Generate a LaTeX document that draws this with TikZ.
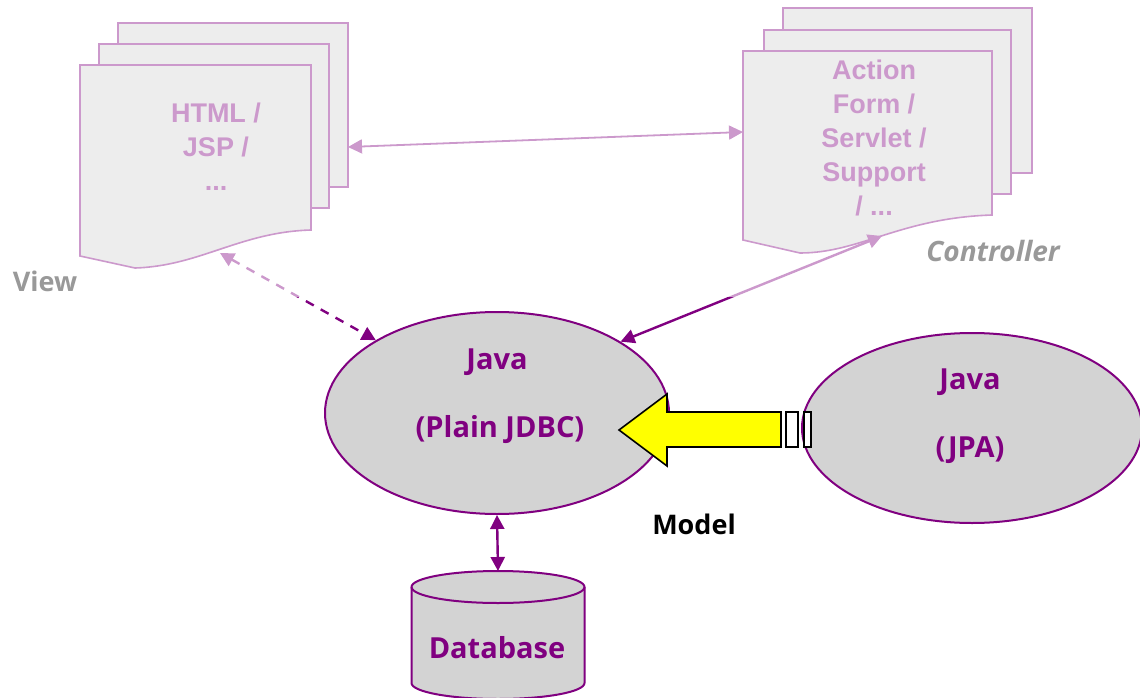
\documentclass[tikz,border=0pt]{standalone}
\usepackage{fontspec}
\usetikzlibrary{shapes.geometric,arrows.meta}
\newfontfamily\labelfont{Open Sans}
\newfontfamily\pagefont{Liberation Sans}
\definecolor{plum}{HTML}{800080}
\definecolor{cellgray}{HTML}{D3D3D3}
\definecolor{arrowyellow}{HTML}{FFFF00}
\tikzset{
  x=1pt, y=-1pt,
  bothtip/.style={{Triangle[length=14pt,width=14pt]}-{Triangle[length=14pt,width=14pt]}},
  link/.style={draw=plum, line width=2.4pt},
  sheet/.style={draw=plum, fill=cellgray, line width=1.6pt},
  blob/.style={ellipse, draw=plum, fill=cellgray, line width=2pt, inner sep=0pt},
  modeltext/.style={text=plum, font=\labelfont\bfseries\fontsize{29}{34}\selectfont},
  sheettext/.style={text=plum, align=center, font=\pagefont\bfseries\fontsize{27}{34}\selectfont},
  caption/.style={text=black, font=\labelfont\bfseries\fontsize{27}{32}\selectfont},
}
\begin{document}
\begin{tikzpicture}
\useasboundingbox (0,0) rectangle (1140,698);
\clip (0,0) rectangle (1140,698);

% ---- Model: JDBC core, JPA alternative, database ----
\node[blob, minimum width=344pt, minimum height=202pt] (jdbc) at (497,413) {};
\node[modeltext] (jdbcA) at (497,362) {Java};
\node[modeltext] (jdbcB) at (500,430) {(Plain JDBC)};

\node[blob, minimum width=340pt, minimum height=190pt] (jpa) at (972,428) {};
\node[modeltext] (jpaA) at (970,382) {Java};
\node[modeltext] (jpaB) at (970,450) {(JPA)};

% yellow replacement arrow with two slots
\draw[fill=arrowyellow, line width=1.6pt, line join=miter]
  (781,412) -- (667,412) -- (667,394) -- (619,430) -- (667,466) -- (667,447) -- (781,447) -- cycle;
\draw[fill=white, line width=1.6pt] (786,412) rectangle (798,447);
\draw[fill=white, line width=1.6pt] (804,412) rectangle (811,447);

\node[font=\labelfont\bfseries\fontsize{27}{32}\selectfont] (model) at (694,524) {Model};

% database cylinder: body, then front rim of the lid
\path[sheet, line width=2pt, fill=cellgray]
  (411.5,587) -- (411.5,683) arc[start angle=180, end angle=0, x radius=86.5, y radius=16]
  -- (584.5,587) arc[start angle=0, end angle=-180, x radius=86.5, y radius=16] -- cycle;
\draw[draw=plum, line width=2pt]
  (411.5,587) arc[start angle=180, end angle=0, x radius=86.5, y radius=16];
\coordinate (dbtop) at (498,571);
\node[modeltext] (db) at (497,648) {Database};

\draw[link, bothtip] (jdbc.south) -- (dbtop);

% ---- View pages ----
\draw[sheet] (118,23) rectangle (348,187);
\draw[sheet] (99,44) rectangle (329,208);
\draw[sheet] (80,65) -- (311,65) -- (311,230)
  .. controls (240,232) and (200,266) .. (135,268) -- (80,256) -- cycle;
\node[sheettext] (viewtext) at (216,147) {HTML /\\JSP /\\...};
\node[caption] (viewcap) at (45,281) {View};
\coordinate (viewR) at (348,147);
\coordinate (viewB) at (220,253);

% ---- Controller pages ----
\draw[sheet] (783,8) rectangle (1032,173);
\draw[sheet] (764,30) rectangle (1011,194);
\draw[sheet] (743,51) -- (992,51) -- (992,215)
  .. controls (900,218) and (860,253) .. (800,253) -- (743,240) -- cycle;
\node[sheettext] (ctrltext) at (874,137.5) {Action\\Form /\\Servlet /\\Support\\/ ...};
\node[caption, font=\labelfont\bfseries\itshape\fontsize{28}{32}\selectfont] (ctrlcap) at (993,251) {Controller};
\coordinate (ctrlL) at (743,132);
\coordinate (ctrlB) at (882,236);

% ---- connectors ----
\draw[link, line width=1.8pt, bothtip] (viewR) -- (ctrlL);
\draw[link, bothtip, dash pattern=on 9pt off 8pt] (viewB) -- (jdbc.149);
\draw[link, bothtip] (ctrlB) -- (jdbc.30);

% View and Controller tiers are shown washed out
\fill[white, opacity=0.6] (0,0) rectangle (1140,297);
\end{tikzpicture}
\end{document}
